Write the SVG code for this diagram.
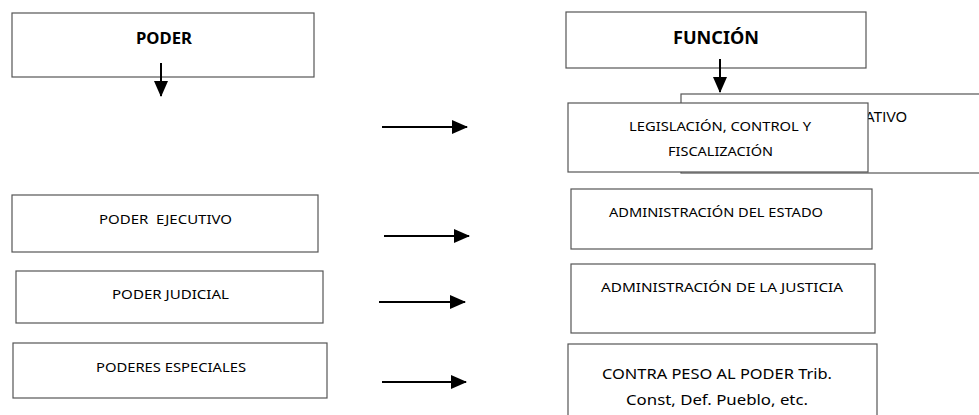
<svg xmlns="http://www.w3.org/2000/svg" width="979" height="415" viewBox="0 0 979 415">
<defs>
<marker id="ah" markerUnits="userSpaceOnUse" markerWidth="16" markerHeight="14" refX="15" refY="7" orient="auto">
<path d="M0,0 L16,7 L0,14 Z" fill="#000"/>
</marker>
<style>
.box{fill:#fff;stroke:#555;stroke-width:1.2}
.t{font-family:"Noto Sans","Open Sans","Liberation Sans",sans-serif;font-size:12.5px;fill:#000;text-anchor:start}
.b{font-weight:bold;font-size:16px}
.big{font-size:15px}
.ar{font-family:"Liberation Sans",Arial,sans-serif;font-size:14px;fill:#000}
.c{stroke:#000;stroke-width:2;fill:none;marker-end:url(#ah)}
</style>
</defs>
<rect width="979" height="415" fill="#fff"/>

<g id="poder">
<rect class="box" x="12" y="13" width="302" height="64"/>
<text class="t b" x="136" y="44" textLength="56" lengthAdjust="spacingAndGlyphs">PODER</text>
</g>

<g id="funcion">
<rect class="box" x="566" y="12" width="300" height="56"/>
<text class="t b" x="673" y="44" textLength="86" lengthAdjust="spacingAndGlyphs" style="font-size:17px">FUNCIÓN</text>
</g>

<g id="legislativo">
<rect class="box" x="681" y="94" width="310" height="79"/>
<text class="ar" x="865" y="122" textLength="42" lengthAdjust="spacingAndGlyphs">ATIVO</text>
</g>

<g id="legislacion">
<rect class="box" x="568" y="103" width="300" height="69"/>
<text class="t" x="629" y="131" textLength="182" lengthAdjust="spacingAndGlyphs">LEGISLACIÓN, CONTROL Y</text>
<text class="t" x="668" y="156" textLength="105" lengthAdjust="spacingAndGlyphs">FISCALIZACIÓN</text>
</g>

<g id="ejecutivo">
<rect class="box" x="12" y="195" width="306" height="57"/>
<text class="t" x="99" y="224" textLength="133" lengthAdjust="spacingAndGlyphs" xml:space="preserve">PODER  EJECUTIVO</text>
</g>

<g id="judicial">
<rect class="box" x="16" y="271" width="307" height="52"/>
<text class="t" x="112" y="299" textLength="117" lengthAdjust="spacingAndGlyphs">PODER JUDICIAL</text>
</g>

<g id="especiales">
<rect class="box" x="13" y="343" width="314" height="55"/>
<text class="t" x="96" y="372" textLength="150" lengthAdjust="spacingAndGlyphs">PODERES ESPECIALES</text>
</g>

<g id="admin-estado">
<rect class="box" x="571" y="189" width="301" height="60"/>
<text class="t" x="609" y="217" textLength="214" lengthAdjust="spacingAndGlyphs">ADMINISTRACIÓN DEL ESTADO</text>
</g>

<g id="admin-justicia">
<rect class="box" x="571" y="264" width="304" height="69"/>
<text class="t" x="601" y="292" textLength="242" lengthAdjust="spacingAndGlyphs">ADMINISTRACIÓN DE LA JUSTICIA</text>
</g>

<g id="contrapeso">
<rect class="box" x="568" y="344" width="309" height="80"/>
<text class="t big" x="602" y="379" textLength="230" lengthAdjust="spacingAndGlyphs">CONTRA PESO AL PODER Trib.</text>
<text class="t big" x="626" y="405" textLength="182" lengthAdjust="spacingAndGlyphs">Const, Def. Pueblo, etc.</text>
</g>

<g id="connectors">
<line class="c" x1="161" y1="63" x2="161" y2="96"/>
<line class="c" x1="720" y1="59" x2="720" y2="92"/>
<line class="c" x1="382" y1="127" x2="467" y2="127"/>
<line class="c" x1="384" y1="236" x2="469" y2="236"/>
<line class="c" x1="379" y1="302" x2="465" y2="302"/>
<line class="c" x1="382" y1="382" x2="466" y2="382"/>
</g>
</svg>
